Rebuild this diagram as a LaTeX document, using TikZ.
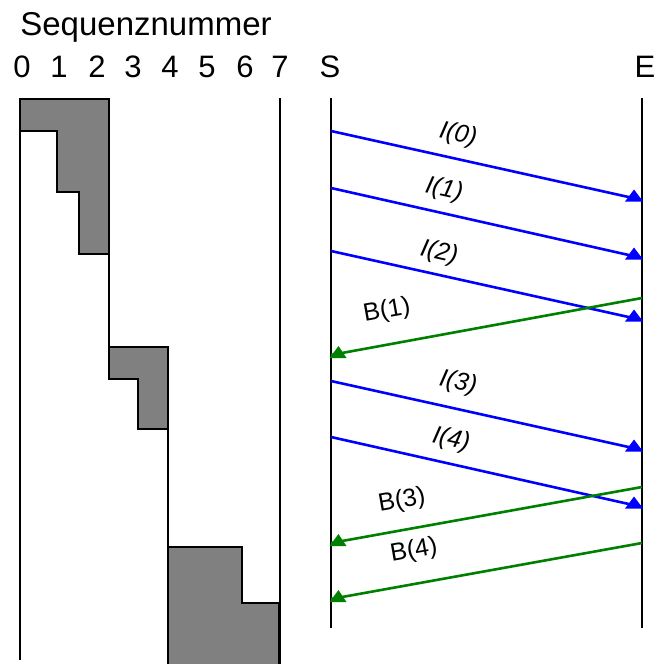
\documentclass[tikz,border=0pt]{standalone}
\usepackage{fontspec}
\setmainfont{Liberation Sans}
\definecolor{ablue}{RGB}{0,0,255}
\definecolor{agreen}{RGB}{0,128,0}
\begin{document}
\begin{tikzpicture}[x=1pt,y=-1pt,
  big/.style={font=\fontsize{31}{31}\selectfont, anchor=base, inner sep=0pt},
  lbl/.style={font=\fontsize{25}{25}\selectfont, inner sep=0pt},
  blk/.style={draw=black, fill=black!50, line width=2.6pt, line join=miter},
  vline/.style={line width=2.8pt},
  thin/.style={line width=1.8pt},
  imsg/.style={ablue, line width=2.6pt},
  bmsg/.style={agreen, line width=2.6pt}]
\useasboundingbox (0,0) rectangle (657,664);
% headings
\node[big, font=\fontsize{33}{33}\selectfont] (title) at (146,35) {Sequenznummer};
\foreach \n/\x in {0/22,1/59,2/97,3/133,4/170,5/207,6/245,7/280}
  \node[big] (d\n) at (\x,77) {\n};
\node[big] (S) at (330,77) {S};
\node[big] (E) at (645,77) {E};
% left window diagram
\draw[blk] (20,99) -- (109,99) -- (109,254) -- (79,254) -- (79,192) -- (57,192) -- (57,131) -- (20,131) -- cycle;
\draw[blk] (109,347) -- (168,347) -- (168,429) -- (138,429) -- (138,379) -- (109,379) -- cycle;
\draw[blk] (168,547) -- (242,547) -- (242,603) -- (279,603) -- (279,668) -- (168,668) -- cycle;
\draw[thin] (109,254) -- (109,347);
\draw[thin] (168,429) -- (168,547);
\draw[vline] (20,99) -- (20,660);
\draw[vline] (280,98) -- (280,668);
% time lines
\coordinate (Stop) at (331,98);
\coordinate (Sbot) at (331,628);
\coordinate (Etop) at (642,98);
\coordinate (Ebot) at (642,628);
\draw[vline] (Stop) -- (Sbot);
\draw[vline] (Etop) -- (Ebot);
% message end points
\coordinate (s0) at (331,131); \coordinate (e0) at (642,200);
\coordinate (s1) at (331,188); \coordinate (e1) at (642,258);
\coordinate (s2) at (331,251); \coordinate (e2) at (642,320);
\coordinate (eb1) at (642,298); \coordinate (sb1) at (331,355);
\coordinate (s3) at (331,381); \coordinate (e3) at (642,450);
\coordinate (s4) at (331,437); \coordinate (e4) at (642,507);
\coordinate (eb3) at (642,487); \coordinate (sb3) at (331,543);
\coordinate (eb4) at (642,543); \coordinate (sb4) at (331,599);
\foreach \a/\b in {s0/e0,s1/e1,s2/e2,s3/e3,s4/e4}{
  \draw[imsg] (\a) -- (\b);
  \fill[ablue] ([shift={(1,1.5)}]\b) -- ++(-18,0) -- ++(9,-12) -- cycle;
}
\foreach \a/\b in {eb1/sb1,eb3/sb3,eb4/sb4}{
  \draw[bmsg] (\a) -- (\b);
  \fill[agreen] ([shift={(-1.5,3)}]\b) -- ++(17,0) -- ++(-8,-12) -- cycle;
}
% labels
\node[lbl, rotate=-12.5] (L0) at (458,135) {\itshape I(0)};
\node[lbl, rotate=-12.5] (L1) at (444,190) {\itshape I(1)};
\node[lbl, rotate=-12.5] (L2) at (439,253) {\itshape I(2)};
\node[lbl, rotate=10] (LB1) at (387,311) {B(1)};
\node[lbl, rotate=-12.5] (L3) at (458,383) {\itshape I(3)};
\node[lbl, rotate=-12.5] (L4) at (451,440) {\itshape I(4)};
\node[lbl, rotate=10] (LB3) at (402,501) {B(3)};
\node[lbl, rotate=10] (LB4) at (414,551) {B(4)};
\end{tikzpicture}
\end{document}
